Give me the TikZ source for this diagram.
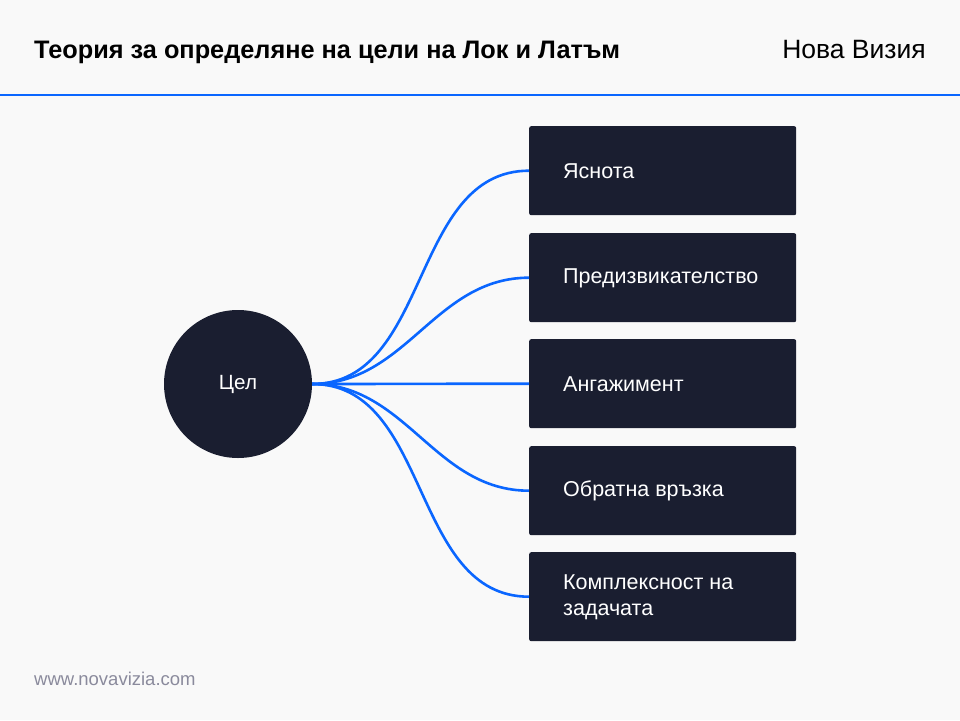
\documentclass[tikz,border=0pt]{standalone}
\usepackage{fontspec}
\setmainfont{Liberation Sans}
\definecolor{bgc}{HTML}{F9F9F9}
\definecolor{navy}{HTML}{1A1E30}
\definecolor{linkblue}{HTML}{0A66FF}
\definecolor{footgray}{HTML}{8A8A9C}
\begin{document}
\begin{tikzpicture}[x=1pt,y=-1pt,
  item/.style={fill=navy,rounded corners=2pt,minimum width=267pt,minimum height=89pt,anchor=north west,inner sep=0pt},
  itemtext/.style={text=white,font=\fontsize{21.5}{25.5}\selectfont,anchor=west,align=left,inner sep=0pt},
  link/.style={draw=linkblue,line width=2.6pt,out=0,in=180,looseness=1.0}]
\fill[bgc] (0,0) rectangle (960,720);
\useasboundingbox (0,0) rectangle (960,720);
\draw[linkblue,line width=2pt] (0,95) -- (960,95);
\node[anchor=base west,inner sep=0pt,font=\bfseries\fontsize{25.3}{30}\selectfont] (title) at (34,58) {Теория за определяне на цели на Лок и Латъм};
\node[anchor=base east,inner sep=0pt,font=\fontsize{26.5}{30}\selectfont] (brand) at (926,58) {Нова Визия};
\node[circle,fill=navy,minimum size=148pt,inner sep=0pt,text=white,font=\fontsize{20.6}{24}\selectfont] (goal) at (238,384) {Цел};
\node[item] (b1) at (529,126) {};
\node[item] (b2) at (529,233) {};
\node[item] (b3) at (529,339) {};
\node[item] (b4) at (529,446) {};
\node[item] (b5) at (529,552) {};
\node[itemtext] (t1) at (563,171) {Яснота};
\node[itemtext] (t2) at (563,278) {Предизвикателство};
\node[itemtext] (t3) at (563,384) {Ангажимент};
\node[itemtext] (t4) at (563,491) {Обратна връзка};
\node[itemtext] (t5) at (563,597) {Комплексност на\\задачата};
\foreach \b in {b1,b2,b3,b4,b5}{\draw[link] (goal.east) to (\b.west);}
\node[anchor=base west,inner sep=0pt,text=footgray,font=\fontsize{18.5}{22}\selectfont] (web) at (34,685) {www.novavizia.com};
\end{tikzpicture}
\end{document}
